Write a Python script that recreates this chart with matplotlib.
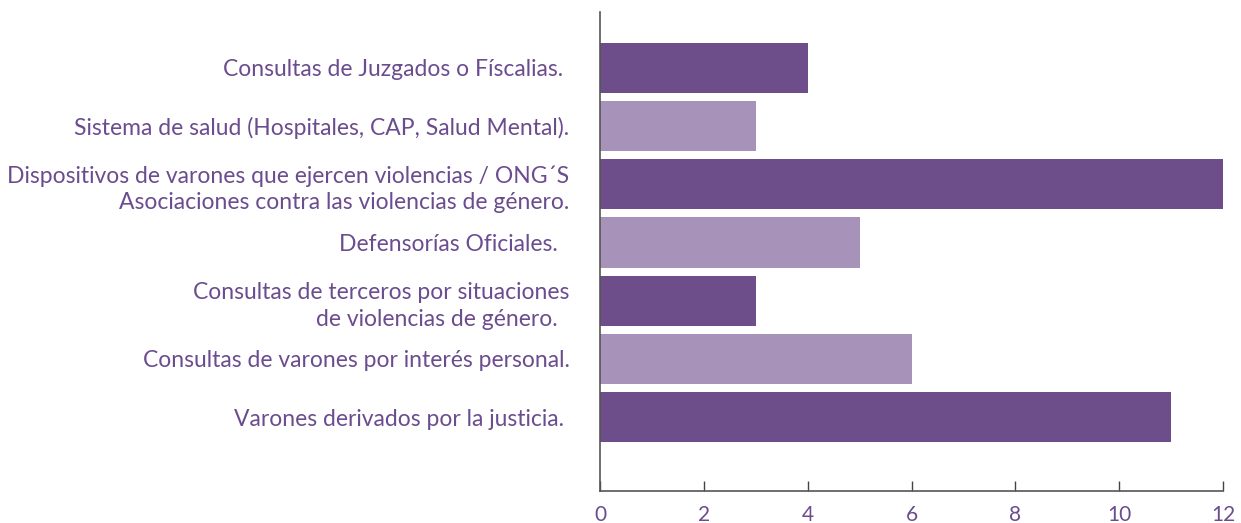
import matplotlib
matplotlib.use("Agg")
import matplotlib.pyplot as plt

categories = [
    "Consultas de Juzgados o Físcalias. ",
    "Sistema de salud (Hospitales, CAP, Salud Mental).",
    "Dispositivos de varones que ejercen violencias / ONG´S\nAsociaciones contra las violencias de género.",
    "Defensorías Oficiales.  ",
    "Consultas de terceros por situaciones\nde violencias de género.  ",
    "Consultas de varones por interés personal.",
    "Varones derivados por la justicia. ",
]
values = [4, 3, 12, 5, 3, 6, 11]
dark = "#6D4E8A"
light = "#A793B9"
colors = [dark, light, dark, light, dark, light, dark]
text_color = "#6B4C8F"

plt.rcParams['font.family'] = ['Lato', 'DejaVu Sans']

fig = plt.figure(figsize=(12.41, 5.23), dpi=100)
ax = fig.add_axes([600/1241, 1-491/523, 623/1241, 479/523])

pos = list(range(len(categories)))
ax.barh(pos, values, height=0.86, color=colors)
ax.set_ylim(len(categories) - 1 + 1.27, -0.96)
ax.set_xlim(0, 12)
ax.set_xticks([0, 2, 4, 6, 8, 10, 12])
ax.set_yticks(pos)
ax.set_yticklabels(categories, fontsize=16.5, color=text_color, ha='right',
                   multialignment='right', linespacing=1.35)
ax.tick_params(axis='y', length=0, pad=22)
ax.tick_params(axis='x', direction='in', length=7.5, width=1, color='#444444',
               labelsize=15, labelcolor=text_color, pad=10)
for s in ['top', 'right']:
    ax.spines[s].set_visible(False)
for s in ['left', 'bottom']:
    ax.spines[s].set_color('#555555')
    ax.spines[s].set_linewidth(1.2)

fig.savefig("out.png", dpi=100)
